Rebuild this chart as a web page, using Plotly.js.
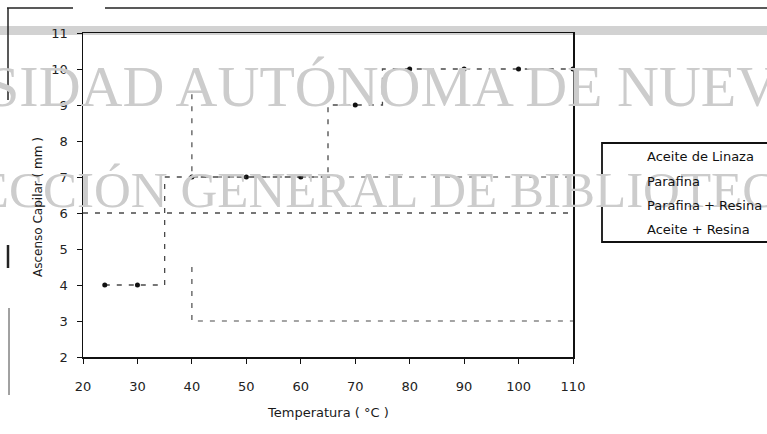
<!DOCTYPE html>
<html><head><meta charset="utf-8">
<script src="https://cdn.plot.ly/plotly-3.0.1.min.js"></script>
<style>html,body{margin:0;padding:0;background:#fff}#chart{width:767px;height:434px}</style>
</head><body><div id="chart"></div>
<script>
// ---- data ----
const seriesNames = ["Aceite de Linaza", "Parafina", "Parafina + Resina", "Aceite + Resina"];
const linazaT = [24, 30, 40, 50, 60, 70, 80, 90, 100, 110];
const linazaY = [4, 4, 7, 7, 7, 9, 10, 10, 10, 10];
const parafinaT = [20, 30, 40, 50, 60, 70, 80, 90, 100, 110];
const parafinaY = [6, 6, 6, 6, 6, 6, 6, 6, 6, 6];
const parafResT = [40, 50, 60, 70, 80, 90, 100, 110];
const parafResY = [4.5, 3, 3, 3, 3, 3, 3, 3];
const aceiteResT = [40, 50, 60, 70, 80, 90, 100, 110];
const aceiteResY = [9.3, 7, 7, 7, 7, 7, 7, 7];
const xTicks = [20, 30, 40, 50, 60, 70, 80, 90, 100, 110];
const yTicks = [2, 3, 4, 5, 6, 7, 8, 9, 10, 11];
const xTitle = "Temperatura ( °C )";
const yTitle = "Ascenso Capilar ( mm )";
const watermark = ["UNIVERSIDAD AUTÓNOMA DE NUEVO LEÓN", "DIRECCIÓN GENERAL DE BIBLIOTECAS"];

// ---- geometry ----
const W = 767, H = 434, L = 83, R = 573, T = 33, B = 357;
const px = x => (x - L) / (R - L);
const py = y => (B - y) / (B - T);
const FONT = "DejaVu Sans, Arial, sans-serif";

const lineStyle = (shape, w) => ({color: "#4a4a4a", width: w, dash: "5px,7px", shape: shape});
const traces = [
  {x: linazaT, y: linazaY, name: seriesNames[0], type: "scatter", mode: "lines+markers",
   line: lineStyle("hvh", 1.3), marker: {color: "#111", size: 5, symbol: "circle"}},
  {x: parafinaT, y: parafinaY, name: seriesNames[1], type: "scatter", mode: "lines",
   line: lineStyle("vh", 1.4)},
  {x: parafResT, y: parafResY, name: seriesNames[2], type: "scatter", mode: "lines",
   line: lineStyle("vh", 1.2)},
  {x: aceiteResT, y: aceiteResY, name: seriesNames[3], type: "scatter", mode: "lines",
   line: lineStyle("vh", 1.2)}
];

const annotations = [];
// watermark (part of the scanned page)
annotations.push({xref: "paper", yref: "paper", x: px(-234), y: py(87), xanchor: "left", yanchor: "middle",
  text: watermark[0], showarrow: false, font: {family: "Liberation Serif, serif", size: 58, color: "#cccccc"}});
annotations.push({xref: "paper", yref: "paper", x: px(-112), y: py(190), xanchor: "left", yanchor: "middle",
  text: watermark[1], showarrow: false, font: {family: "Liberation Serif, serif", size: 51, color: "#cccccc"}});
// axis titles
annotations.push({xref: "paper", yref: "paper", x: px(328), y: py(412), xanchor: "center", yanchor: "middle",
  text: xTitle, showarrow: false, font: {family: FONT, size: 13, color: "#1a1a1a"}});
annotations.push({xref: "paper", yref: "paper", x: px(38), y: py(207), xanchor: "center", yanchor: "middle",
  text: yTitle, textangle: -90, showarrow: false, font: {family: FONT, size: 12, color: "#1a1a1a"}});
// legend entries
const legY = [156, 181, 205, 229];
seriesNames.forEach((n, i) => annotations.push({xref: "paper", yref: "paper", x: px(645), y: py(legY[i]),
  xanchor: "left", yanchor: "middle", text: n, showarrow: false, font: {family: FONT, size: 13, color: "#111"}}));

const shapes = [
  // grey band of the scan
  {type: "rect", xref: "paper", yref: "paper", x0: px(0), x1: px(W), y0: py(35), y1: py(26),
   line: {width: 0}, fillcolor: "#d2d2d2", layer: "below"},
  // legend box
  {type: "rect", xref: "paper", yref: "paper", x0: px(602), x1: px(800), y0: py(242), y1: py(143),
   line: {color: "#111", width: 1.8}},
  // page edges of the scan
  {type: "line", xref: "paper", yref: "paper", x0: px(7), x1: px(73), y0: py(8), y1: py(8), line: {color: "#222", width: 1.5}},
  {type: "line", xref: "paper", yref: "paper", x0: px(105), x1: px(767), y0: py(8), y1: py(8), line: {color: "#222", width: 1.5}},
  {type: "line", xref: "paper", yref: "paper", x0: px(8), x1: px(8), y0: py(8), y1: py(100), line: {color: "#222", width: 1.5}},
  {type: "line", xref: "paper", yref: "paper", x0: px(8), x1: px(8), y0: py(245), y1: py(268), line: {color: "#222", width: 2.5}},
  {type: "line", xref: "paper", yref: "paper", x0: px(9), x1: px(9), y0: py(308), y1: py(395), line: {color: "#444", width: 1}}
];

const axisBase = {
  showline: true, mirror: true, linecolor: "#111", linewidth: 1.5,
  showgrid: false, zeroline: false, ticks: "outside", ticklen: 5, tickcolor: "#111", tickwidth: 1,
  tickfont: {family: FONT, size: 13, color: "#222"}
};

const layout = {
  width: W, height: H,
  margin: {l: L, r: W - R, t: T, b: H - B, pad: 0},
  paper_bgcolor: "#ffffff", plot_bgcolor: "rgba(0,0,0,0)",
  showlegend: false,
  xaxis: Object.assign({}, axisBase, {range: [20, 110], tickvals: xTicks, ticktext: xTicks.map(String), ticklabelstandoff: 12}),
  yaxis: Object.assign({}, axisBase, {range: [2, 11], tickvals: yTicks, ticktext: yTicks.map(String), ticklabelstandoff: 6}),
  annotations: annotations,
  shapes: shapes
};

Plotly.newPlot("chart", traces, layout, {staticPlot: true, displayModeBar: false});
</script>
</body></html>
